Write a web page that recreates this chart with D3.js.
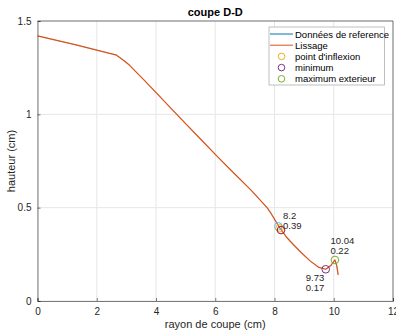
<!DOCTYPE html>
<html>
<head>
<meta charset="utf-8">
<script src="https://cdn.jsdelivr.net/npm/d3@7"></script>
<style>
  body { margin: 0; background: #fff; }
  svg { font-family: "Liberation Sans", Arial, Helvetica, sans-serif; }
</style>
</head>
<body>
<div id="chart"></div>
<script>
// profile (cm)
const rayon   = [0, 1.3, 2.67, 2.9, 3.1, 3.6, 4.1, 4.7, 5.5, 6.1, 6.6, 7.2, 7.75, 7.9, 8.05, 8.2, 8.4, 8.65, 8.9, 9.2, 9.5, 9.73, 9.9, 10.04, 10.1, 10.15];
const hauteur = [1.42, 1.372, 1.317, 1.29, 1.264, 1.183, 1.10, 1.0, 0.868, 0.769, 0.69, 0.595, 0.50, 0.465, 0.425, 0.387, 0.343, 0.30, 0.26, 0.215, 0.18, 0.17, 0.19, 0.22, 0.19, 0.14];

const xTicks = [0, 2, 4, 6, 8, 10, 12];
const yTicks = [0, 0.5, 1, 1.5];

// special points: [x, y, colour]
const inflexPts = [[8.13, 0.40, "#4DBEEE"], [8.17, 0.39, "#EDB120"], [8.22, 0.38, "#A2142F"]];
const minPt = [9.73, 0.17];
const maxPt = [10.04, 0.22];

const legendNames = ["Données de reference", "Lissage", "point d'inflexion", "minimum", "maximum exterieur"];
const legendColors = ["#0072BD", "#D95319", "#EDB120", "#7E2F8E", "#77AC30"];

const width = 396, height = 336;
const margin = {left: 37.5, right: 3, top: 21, bottom: 35};

const svg = d3.select("#chart").append("svg")
    .attr("width", width)
    .attr("height", height);

const x = d3.scaleLinear().domain([0, 12]).range([margin.left, width - margin.right]);
const y = d3.scaleLinear().domain([0, 1.5]).range([height - margin.bottom, margin.top]);

// grid
svg.append("g").selectAll("line").data(xTicks).enter().append("line")
    .attr("x1", d => x(d)).attr("x2", d => x(d))
    .attr("y1", y(0)).attr("y2", y(1.5))
    .attr("stroke", "#e6e6e6").attr("stroke-width", 1);
svg.append("g").selectAll("line").data(yTicks).enter().append("line")
    .attr("x1", x(0)).attr("x2", x(12))
    .attr("y1", d => y(d)).attr("y2", d => y(d))
    .attr("stroke", "#e6e6e6").attr("stroke-width", 1);

// axes (matlab style, ticks inside)
const xAxis = svg.append("g")
    .attr("transform", `translate(0,${y(0)})`)
    .call(d3.axisBottom(x).tickValues(xTicks).tickSize(-3).tickPadding(7).tickFormat(d3.format("")));
const yAxis = svg.append("g")
    .attr("transform", `translate(${x(0)},0)`)
    .call(d3.axisLeft(y).tickValues(yTicks).tickSize(-3).tickPadding(6).tickFormat(d3.format("")));
for (const ax of [xAxis, yAxis]) {
    ax.select(".domain").attr("stroke", "#262626").attr("stroke-width", 0.6);
    ax.selectAll(".tick line").attr("stroke", "#262626").attr("stroke-width", 0.6);
    ax.selectAll(".tick text").attr("fill", "#262626").style("font-size", "10px");
}
// box top/right
svg.append("line").attr("x1", x(0)).attr("x2", x(12)).attr("y1", y(1.5)).attr("y2", y(1.5))
    .attr("stroke", "#262626").attr("stroke-width", 0.6);
svg.append("line").attr("x1", x(12)).attr("x2", x(12)).attr("y1", y(0)).attr("y2", y(1.5))
    .attr("stroke", "#262626").attr("stroke-width", 0.6);

// curves: reference data hidden under the smoothed one
const pts = rayon.map((r, i) => [r, hauteur[i]]);
const line = d3.line().x(d => x(d[0])).y(d => y(d[1]));
svg.append("path").datum(pts).attr("d", line)
    .attr("fill", "none").attr("stroke", legendColors[0]).attr("stroke-width", 0.3);
svg.append("path").datum(pts).attr("d", line)
    .attr("fill", "none").attr("stroke", legendColors[1]).attr("stroke-width", 1.2)
    .attr("stroke-linejoin", "round");

// markers
function circle(px, py, col) {
    svg.append("circle").attr("cx", x(px)).attr("cy", y(py)).attr("r", 3.8)
        .attr("fill", "none").attr("stroke", col).attr("stroke-width", 1);
}
inflexPts.forEach(p => circle(p[0], p[1], p[2]));
circle(minPt[0], minPt[1], legendColors[3]);
circle(maxPt[0], maxPt[1], legendColors[4]);

// value labels
function label(px, py, dx, dy, lines) {
    lines.forEach((t, i) => {
        svg.append("text").attr("x", x(px) + dx).attr("y", y(py) + dy + i * 10)
            .attr("fill", "#262626").style("font-size", "9.5px").text(t);
    });
}
label(inflexPts[1][0], inflexPts[1][1], 3.5, -9.5, ["8.2", "0.39"]);
label(minPt[0], minPt[1], -20, 12, ["9.73", "0.17"]);
label(maxPt[0], maxPt[1], -4.5, -16, ["10.04", "0.22"]);

// title and axis labels
svg.append("text").attr("x", (x(0) + x(12)) / 2).attr("y", 16)
    .attr("text-anchor", "middle").attr("font-weight", "bold")
    .style("font-size", "11px").attr("fill", "#000").text("coupe D-D");
svg.append("text").attr("x", (x(0) + x(12)) / 2).attr("y", 328)
    .attr("text-anchor", "middle").style("font-size", "11px").attr("fill", "#262626")
    .text("rayon de coupe (cm)");
svg.append("text").attr("transform", `translate(15,${(y(0) + y(1.5)) / 2}) rotate(-90)`)
    .attr("text-anchor", "middle").style("font-size", "11px").attr("fill", "#262626")
    .text("hauteur (cm)");

// legend
const lg = svg.append("g").attr("transform", "translate(269,27)");
lg.append("rect").attr("width", 115.5).attr("height", 58)
    .attr("fill", "#fff").attr("stroke", "#b0b0b0").attr("stroke-width", 0.8);
legendNames.forEach((name, i) => {
    const ly = 7 + i * 11.2;
    if (i < 2) {
        lg.append("line").attr("x1", 1).attr("x2", 24).attr("y1", ly).attr("y2", ly)
            .attr("stroke", legendColors[i]).attr("stroke-width", 1);
    } else {
        lg.append("circle").attr("cx", 12.5).attr("cy", ly).attr("r", 3.3)
            .attr("fill", "none").attr("stroke", legendColors[i]).attr("stroke-width", 1);
    }
    lg.append("text").attr("x", 26).attr("y", ly + 3.5)
        .style("font-size", "9.5px").attr("fill", "#000").text(name);
});
</script>
</body>
</html>
